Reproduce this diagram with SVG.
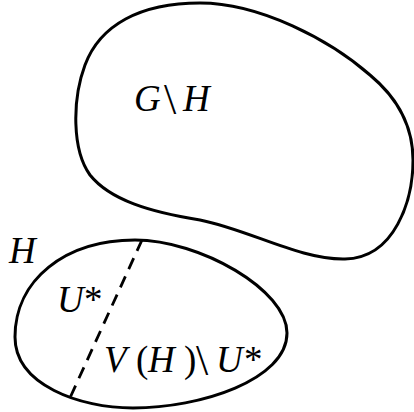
<svg xmlns="http://www.w3.org/2000/svg" width="414" height="412" viewBox="0 0 414 412">
<style>
.blob{fill:none;stroke:#000;stroke-width:3;stroke-linejoin:round}
.dash{fill:none;stroke:#000;stroke-width:2.8;stroke-dasharray:12 8}
text{font-family:"Liberation Serif","DejaVu Serif",serif;font-size:37px;fill:#000}
.i{font-style:italic}
</style>
<rect width="414" height="412" fill="#fff"/>
<g id="GminusH">
<path class="blob" d="M200,3 C260,3 330,40 370,75 C400,100 413,130 413,160 C413,200 395,258 345,259 C300,260 250,230 200,220 C150,212 110,200 90,175 C72,150 72,100 85,65 C100,25 140,3 200,3 Z"/>
<text x="134" y="111"><tspan class="i">G</tspan><tspan x="164" font-size="44px" dy="3">\</tspan><tspan x="183" dy="-3" class="i">H</tspan></text>
</g>
<g id="H">
<path class="blob" d="M135,240 C200,240 287,290 287,333 C287,380 200,408 133,408 C80,408 15,385 15,337 C15,280 65,240 135,240 Z"/>
<text x="9" y="263" class="i">H</text>
</g>
<g id="connectors">
<line class="dash" x1="142" y1="240" x2="69" y2="400"/>
</g>
<g id="labels">
<text x="57" y="312"><tspan class="i">U</tspan><tspan x="84">*</tspan></text>
<text x="104" y="372"><tspan class="i">V</tspan><tspan x="136">(</tspan><tspan x="148" class="i">H</tspan><tspan x="184">)</tspan><tspan x="196" font-size="44px" dy="3">\</tspan><tspan x="216" dy="-3" class="i">U</tspan><tspan x="244">*</tspan></text>
</g>
</svg>
